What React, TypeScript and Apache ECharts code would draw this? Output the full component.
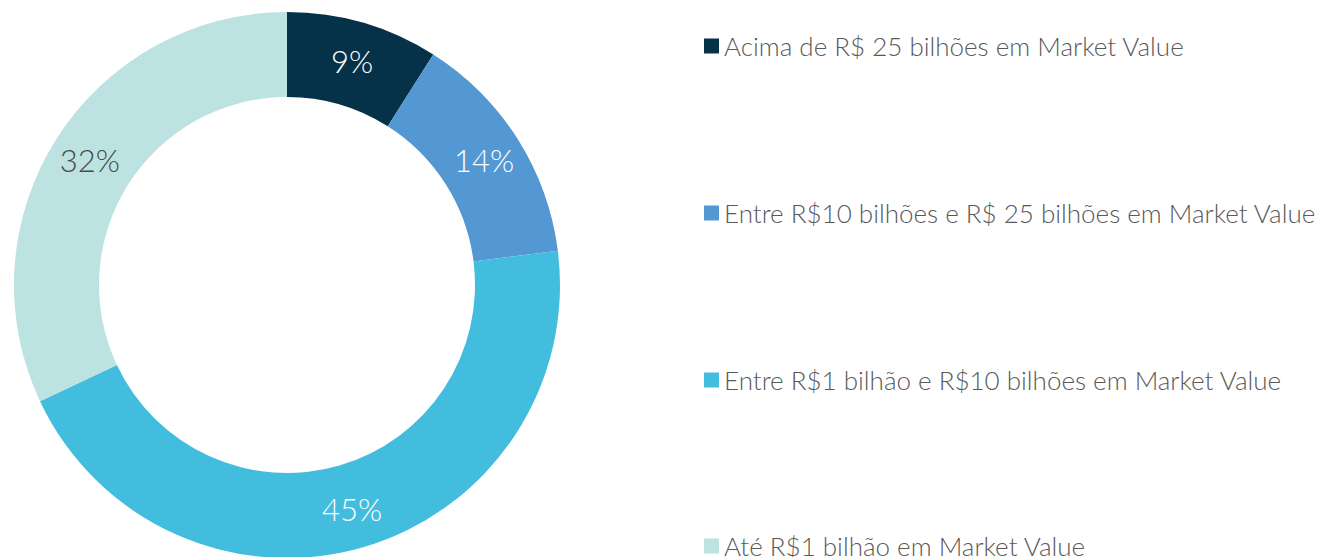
import React, { useEffect, useRef } from "react";
import * as echarts from "echarts";

const categories = [
  "Acima de R$ 25 bilhões em Market Value",
  "Entre R$10 bilhões e R$ 25 bilhões em Market Value",
  "Entre R$1 bilhão e R$10 bilhões em Market Value",
  "Até R$1 bilhão em Market Value",
];
const values = [9, 14, 45, 32];
const colors = ["#063249", "#5397D3", "#43BDDE", "#BCE2E2"];
const labelColors = ["#ffffff", "#ffffff", "#ffffff", "#4a4a4a"];
const legendCenters = [46, 213, 380, 546];

export default function App() {
  const ref = useRef<HTMLDivElement>(null);
  useEffect(() => {
    if (!ref.current) return;
    const chart = echarts.init(ref.current, null, { renderer: "svg" });
    chart.setOption({
      animation: false,
      color: colors,
      legend: categories.map((name, i) => ({
        orient: "vertical",
        left: 704,
        top: legendCenters[i] - 14,
        padding: 0,
        itemWidth: 15,
        itemHeight: 15,
        icon: "rect",
        data: [name],
        textStyle: {
          fontFamily: "Lato",
          fontWeight: 300,
          fontSize: 26,
          color: "#595959",
          lineHeight: 28,
          padding: [0, 0, 0, 0],
        },
      })),
      series: [
        {
          type: "pie",
          center: [287, 285],
          radius: [188, 273],
          startAngle: 90,
          clockwise: true,
          avoidLabelOverlap: false,
          itemStyle: { borderWidth: 0 },
          label: {
            show: true,
            position: "inside",
            formatter: "{c}%",
            fontFamily: "Lato",
            fontWeight: 300,
            fontSize: 31,
          },
          labelLine: { show: false },
          emphasis: { disabled: true },
          data: categories.map((name, i) => ({
            name,
            value: values[i],
            label: { color: labelColors[i] },
          })),
        },
      ],
    });
    return () => chart.dispose();
  }, []);
  return (
    <div
      ref={ref}
      style={{ position: "fixed", left: 0, top: 0, width: 1324, height: 557, background: "#fff" }}
    />
  );
}
